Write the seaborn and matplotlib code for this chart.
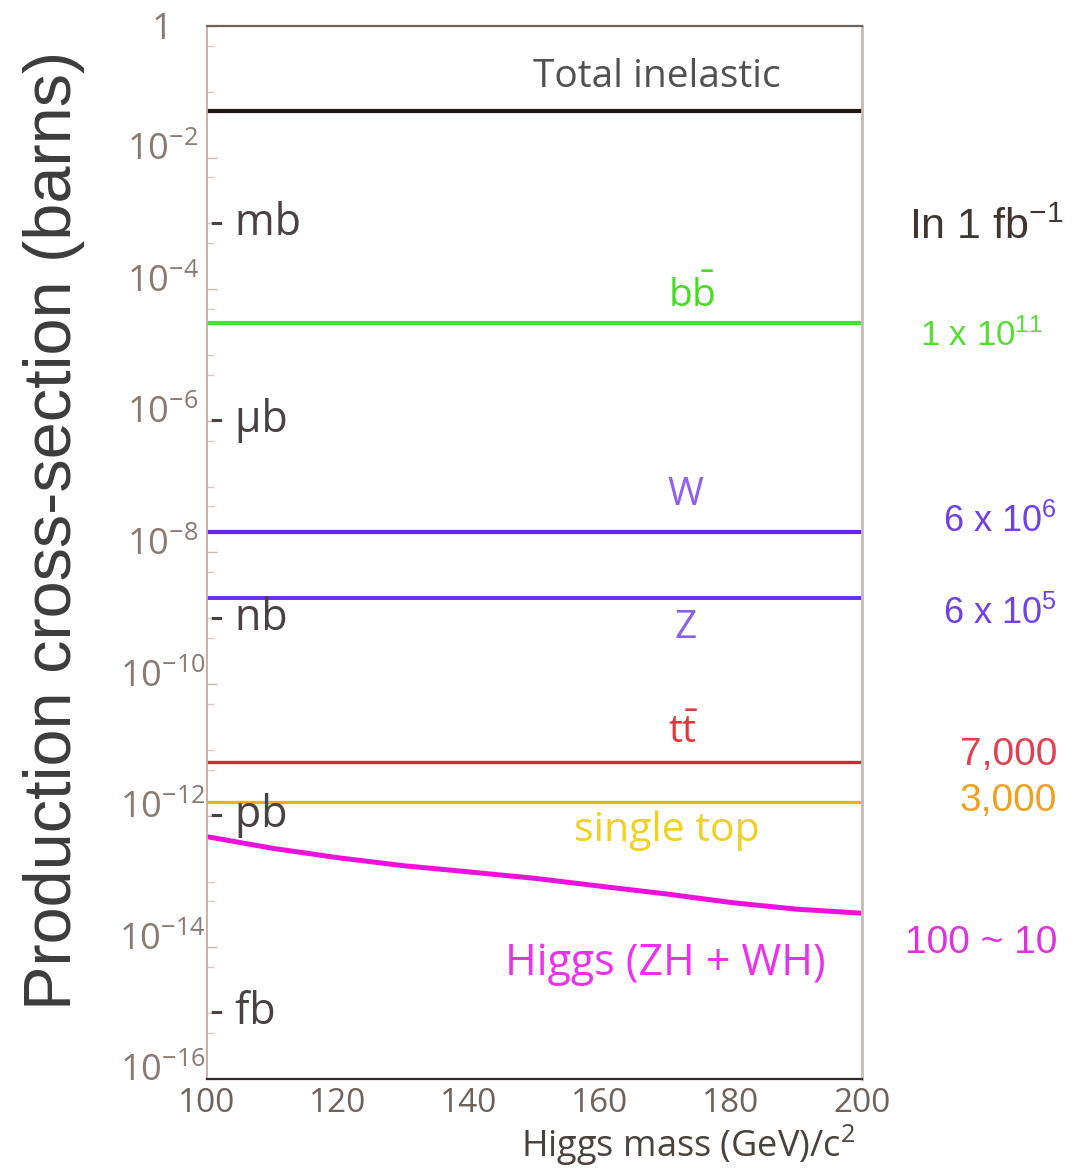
import numpy as np
import pandas as pd
import matplotlib
matplotlib.use("Agg")
import matplotlib.pyplot as plt
import matplotlib.transforms as mtransforms
from matplotlib import font_manager
from matplotlib.ticker import FixedLocator, LogLocator, NullFormatter
import seaborn as sns

# ---------------- data ----------------
mass_range = [100, 200]
total_inelastic = [5.1e-2, 5.1e-2]
bbbar = [3.1e-5, 3.1e-5]
w_boson = [2.07e-8, 2.07e-8]
z_boson = [2.05e-9, 2.05e-9]
ttbar = [6.6e-12, 6.6e-12]
single_top = [1.6e-12, 1.6e-12]
higgs_mass = [100, 110, 120, 130, 140, 150, 160, 170, 180, 190, 200]
higgs_xsec = [4.8e-13, 3.2e-13, 2.3e-13, 1.74e-13, 1.4e-13, 1.12e-13,
              8.5e-14, 6.5e-14, 4.8e-14, 3.8e-14, 3.3e-14]

process_names = ["Total inelastic", "bb", "W", "Z", "tt", "single top", "Higgs"]
process_labels = ["Total inelastic", r"$\mathregular{b\bar{b}}$", "W", "Z",
                  r"$\mathregular{t\bar{t}}$", "single top", "Higgs (ZH + WH)"]
label_x = [168.7, 174, 173, 173, 172.8, 170.2, 170]
label_y = [0.168, 7.9e-5, 7.4e-8, 7.1e-10, 1.8e-11, 6.0e-13, 5.7e-15]

events_text = [r"1 x 10$\mathregular{^{11}}$", r"6 x 10$\mathregular{^{6}}$",
               r"6 x 10$\mathregular{^{5}}$", "7,000", "3,000", "100 ~ 10"]
events_y = [1.95e-5, 2.9e-8, 1.15e-9, 8.3e-12, 1.66e-12, 1.15e-14]

unit_names = ["mb", "μb", "nb", "pb", "fb"]
unit_values = [1e-3, 1e-6, 1e-9, 1e-12, 1e-15]

x_ticks = [100, 120, 140, 160, 180, 200]
y_tick_values = [1e0, 1e-2, 1e-4, 1e-6, 1e-8, 1e-10, 1e-12, 1e-14, 1e-16]
y_tick_labels = ["1", r"$\mathregular{10^{-2}}$", r"$\mathregular{10^{-4}}$",
                 r"$\mathregular{10^{-6}}$", r"$\mathregular{10^{-8}}$",
                 r"$\mathregular{10^{-10}}$", r"$\mathregular{10^{-12}}$",
                 r"$\mathregular{10^{-14}}$", r"$\mathregular{10^{-16}}$"]

# ---------------- styles ----------------
line_colors = {"Total inelastic": "#1e1612", "bb": "#33ee22", "W": "#6424ee",
               "Z": "#6430ee", "tt": "#dd2233", "single top": "#f5b010",
               "Higgs": "#ee11dd"}
line_widths = {"Total inelastic": 3.0, "bb": 3.0, "W": 3.0, "Z": 2.8,
               "tt": 2.4, "single top": 2.4, "Higgs": 3.6}
label_colors = ["#555050", "#44dd22", "#9060f0", "#8a60e8", "#e83535",
                "#f0d020", "#ee30ee"]
label_sizes = [28, 28, 28, 28, 28, 29.5, 31]
events_colors = ["#55dd33", "#7040e8", "#7040e8", "#e04050", "#f0a020", "#dd33dd"]
events_sizes = [25, 26, 26, 28, 28, 28]

sns.set_theme(style="white")
names = {f.name for f in font_manager.fontManager.ttflist}
if "Liberation Sans Narrow" in names:
    NARROW, NS = "Liberation Sans Narrow", 1.2
else:
    NARROW, NS = "Open Sans", 1.0
ARIAL = "Liberation Sans"
plt.rcParams["font.family"] = [NARROW, "DejaVu Sans"]

# ---------------- frame ----------------
df = pd.concat([
    pd.DataFrame({"mass": mass_range, "xsec": total_inelastic, "process": "Total inelastic"}),
    pd.DataFrame({"mass": mass_range, "xsec": bbbar, "process": "bb"}),
    pd.DataFrame({"mass": mass_range, "xsec": w_boson, "process": "W"}),
    pd.DataFrame({"mass": mass_range, "xsec": z_boson, "process": "Z"}),
    pd.DataFrame({"mass": mass_range, "xsec": ttbar, "process": "tt"}),
    pd.DataFrame({"mass": mass_range, "xsec": single_top, "process": "single top"}),
    pd.DataFrame({"mass": higgs_mass, "xsec": higgs_xsec, "process": "Higgs"}),
], ignore_index=True)

fig = plt.figure(figsize=(10.76, 11.71), dpi=100)
ax = fig.add_axes([0.1924, 0.0786, 0.6087, 0.8992])

sns.lineplot(data=df, x="mass", y="xsec", hue="process", size="process",
             palette=line_colors, sizes=line_widths, legend=False,
             estimator=None, sort=False, ax=ax, solid_capstyle="butt")

ax.set_yscale("log")
ax.set_xlim(100, 200)
ax.set_ylim(1e-16, 1)

# y ticks
ax.yaxis.set_major_locator(FixedLocator(y_tick_values))
ax.set_yticklabels(y_tick_labels)
ax.yaxis.set_minor_locator(LogLocator(base=10, subs=(1.0, 5.0), numticks=100))
ax.yaxis.set_minor_formatter(NullFormatter())
ax.tick_params(axis="y", which="major", direction="in", length=7, width=1,
               color="#cdb5aa", labelsize=26 * NS, labelcolor="#8a7a72", pad=32,
               left=True, right=False)
ax.tick_params(axis="y", which="minor", direction="in", length=5, width=1,
               color="#d8c8c0", left=True, right=False)

# x ticks
ax.set_xticks(x_ticks)
ax.set_xticklabels([str(v) for v in x_ticks])
ax.tick_params(axis="x", which="both", length=0, labelsize=24 * NS,
               labelcolor="#6e625a", pad=6)

# lift the power-of-ten labels slightly above their decade, as in the original
lift = mtransforms.ScaledTranslation(0, 8 / 72, fig.dpi_scale_trans)
for i, tick in enumerate(ax.yaxis.get_major_ticks()):
    tick.label1.set_ha("center")
    if i > 0:
        tick.label1.set_transform(tick.label1.get_transform() + lift)

# spines
for side, col, lw in [("left", "#caa898", 1.3), ("top", "#6a6560", 1.6),
                      ("right", "#c4bcb4", 2.0), ("bottom", "#302a28", 1.6)]:
    ax.spines[side].set_visible(True)
    ax.spines[side].set_color(col)
    ax.spines[side].set_linewidth(lw)

# axis labels
ax.set_ylabel("Production cross-section (barns)", fontsize=48,
              family=ARIAL, color="#3c3c3c")
ax.yaxis.set_label_coords(-0.186, 0.521)
ax.set_xlabel(r"Higgs mass (GeV)/c$\mathregular{^2}$", fontsize=26 * NS,
              color="#4a423c")
ax.xaxis.set_label_coords(0.99, -0.063)
ax.xaxis.label.set_ha("right")
ax.xaxis.label.set_va("center")

# process labels inside plot
for txt, xv, yv, col, fs in zip(process_labels, label_x, label_y, label_colors, label_sizes):
    ax.text(xv, yv, txt, color=col, fontsize=fs * NS, ha="center", va="center")

# unit markers
blend = mtransforms.blended_transform_factory(ax.transAxes, ax.transData)
for nm, val in zip(unit_names, unit_values):
    ax.text(0.004, val, "- " + nm, transform=blend, fontsize=31 * NS,
            color="#4a4242", ha="left", va="center")

# events in 1 fb^-1 (outside axes)
ax.text(1.072, 8.5e-4, r"In 1 fb$\mathregular{^{-1}}$", transform=blend,
        fontsize=31, family=ARIAL, color="#403530", ha="left", va="center",
        clip_on=False)
for i, (txt, yv, col, fs) in enumerate(zip(events_text, events_y, events_colors, events_sizes)):
    if i == 0:
        ax.text(1.088, yv, txt, transform=blend, fontsize=fs, family=ARIAL,
                color=col, ha="left", va="center", clip_on=False)
    else:
        ax.text(1.298, yv, txt, transform=blend, fontsize=fs, family=ARIAL,
                color=col, ha="right", va="center", clip_on=False)

fig.savefig("out.png", dpi=100)
